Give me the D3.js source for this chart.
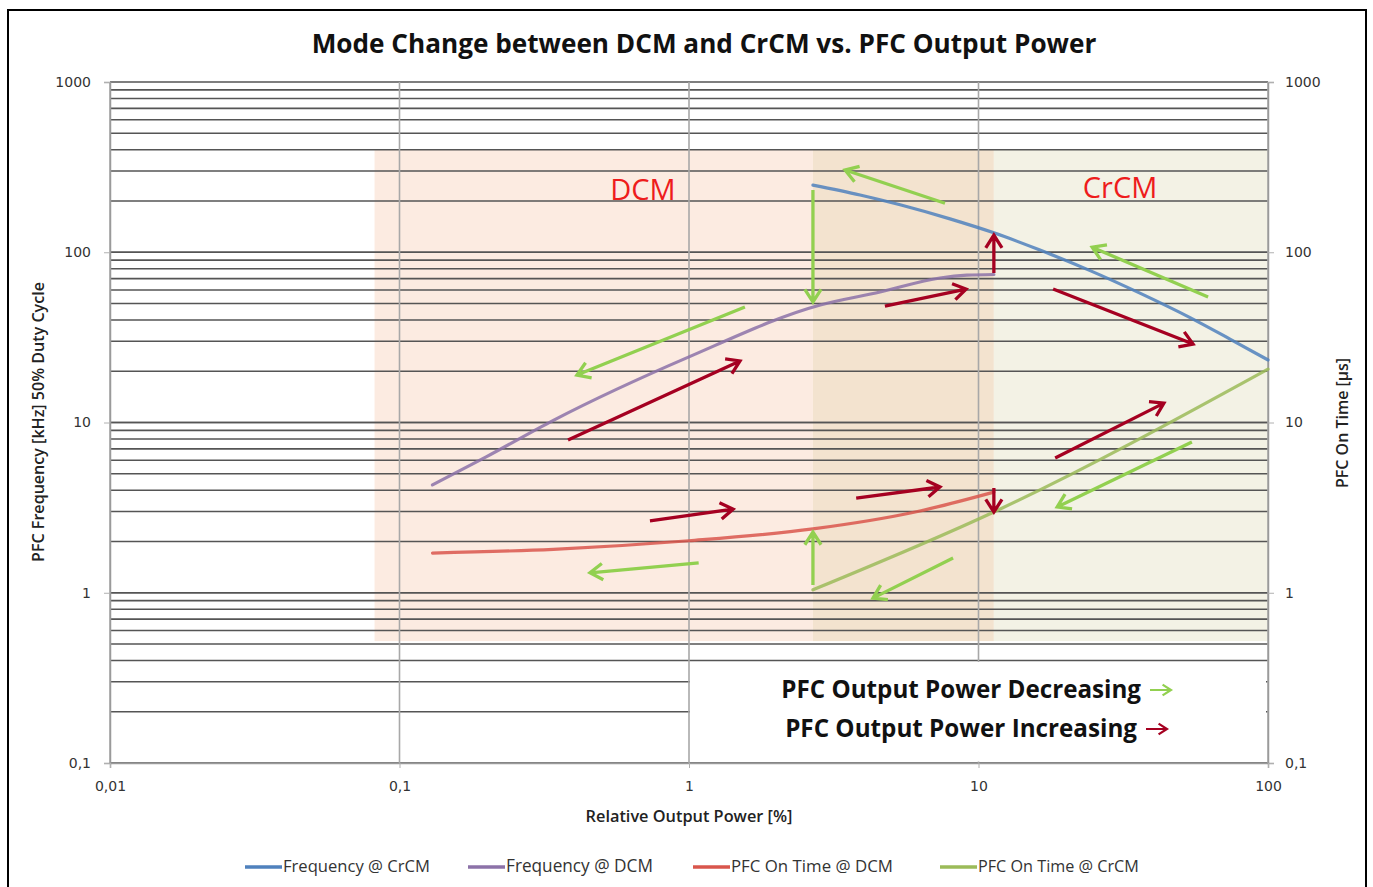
<!DOCTYPE html>
<html>
<head>
<meta charset="utf-8">
<title>Mode Change between DCM and CrCM</title>
<script src="https://d3js.org/d3.v7.min.js"></script>
<style>
  body { margin: 0; background: #fff; font-family: "Open Sans", sans-serif; }
</style>
</head>
<body>
<div id="chart"></div>
<script>
// values (x: relative output power in %, y: kHz or us)
var xTicks = [0.01, 0.1, 1, 10, 100];
var xTickLabels = ["0,01", "0,1", "1", "10", "100"];
var yTicks = [0.1, 1, 10, 100, 1000];
var yTickLabels = ["0,1", "1", "10", "100", "1000"];

var freqCrcmX = [2.68, 3.9, 5.36, 7.97, 11.3, 16.3, 24.3, 36.1, 53.8, 73.9, 100];
var freqCrcmY = [248, 217, 190, 157, 130, 103, 78, 57.5, 41.3, 30.9, 23.3];
var freqDcmX = [0.13, 0.2, 0.34, 1.0, 2.84, 4.57, 7.36, 9.12, 11.3];
var freqDcmY = [4.3, 6.3, 10.3, 24.3, 49, 58.4, 70.6, 73.3, 74.0];
var onDcmX = [0.13, 0.34, 1.0, 2.68, 6.1, 11.3];
var onDcmY = [1.71, 1.8, 2.02, 2.37, 2.99, 3.9];
var onCrcmX = [2.68, 11.3, 100];
var onCrcmY = [1.04, 2.98, 20.6];

var seriesNames = ["Frequency @ CrCM", "Frequency @ DCM", "PFC On Time @ DCM", "PFC On Time @ CrCM"];
var seriesColors = ["#4f81bd", "#8c72a8", "#d9564c", "#9bbb59"];

// mode regions: DCM, overlap, CrCM
var regionEdges = [0.082, 2.68, 11.3, 100];
var regionTop = 400, regionBottom = 0.52;
var regionColors = ["#fcebe1", "#f3e3cf", "#f3f2e5"];

// arrows [x1, y1, x2, y2] in data units
var decArrows = [
  [7.66, 194, 3.46, 304],
  [2.68, 232, 2.68, 51],
  [62.1, 54.6, 24.7, 107],
  [1.56, 47.7, 0.41, 19.0],
  [1.08, 1.50, 0.455, 1.31],
  [2.68, 1.11, 2.68, 2.27],
  [8.17, 1.60, 4.32, 0.93],
  [54.6, 7.68, 18.7, 3.19]
];
var incArrows = [
  [0.382, 7.89, 1.50, 23.0],
  [0.733, 2.64, 1.42, 3.10],
  [4.75, 48.3, 9.06, 60.8],
  [11.3, 75.5, 11.3, 126],
  [18.1, 60.8, 55.1, 28.9],
  [3.78, 3.60, 7.36, 4.18],
  [11.3, 4.12, 11.3, 2.98],
  [18.4, 6.19, 43.7, 13.0]
];
var decColor = "#92d050", incColor = "#a50021";

var W = 1373, H = 887;
var pLeft = 110, pRight = 1268, pTop = 82, pBottom = 763;

var svg = d3.select("#chart").append("svg").attr("width", W).attr("height", H);

var x = d3.scaleLog().domain([0.01, 100]).range([pLeft, pRight]);
var y = d3.scaleLog().domain([0.1, 1000]).range([pBottom, pTop]);

function fit(sel, w) {
  var len = sel.node().getComputedTextLength();
  sel.attr("font-size", parseFloat(sel.attr("font-size")) * w / len);
}

// outer frame
svg.append("rect").attr("x", 8).attr("y", 10).attr("width", 1358).attr("height", 890)
  .attr("fill", "none").attr("stroke", "#000").attr("stroke-width", 2);

// title
svg.append("text").attr("x", 704).attr("y", 53).attr("text-anchor", "middle")
  .attr("font-weight", 700).attr("font-size", 24).attr("fill", "#111")
  .text("Mode Change between DCM and CrCM vs. PFC Output Power")
  .call(fit, 785);

// regions
var regions = svg.append("g");
regionColors.forEach(function(c, i) {
  regions.append("rect")
    .attr("x", x(regionEdges[i])).attr("y", y(regionTop))
    .attr("width", x(regionEdges[i + 1]) - x(regionEdges[i]))
    .attr("height", y(regionBottom) - y(regionTop))
    .attr("fill", c);
});

// grid
var minor = [];
[0.1, 1, 10, 100].forEach(function(d) {
  for (var k = 1; k <= 10; k++) minor.push(d * k);
});
svg.append("g").attr("class", "grid")
  .selectAll("line").data(minor).enter().append("line")
  .attr("x1", pLeft).attr("x2", pRight)
  .attr("y1", function(d) { return y(d); }).attr("y2", function(d) { return y(d); })
  .attr("stroke", "#555").attr("stroke-width", 1.7);
svg.append("g")
  .selectAll("line").data(xTicks).enter().append("line")
  .attr("x1", function(d) { return x(d); }).attr("x2", function(d) { return x(d); })
  .attr("y1", pTop).attr("y2", pBottom)
  .attr("stroke", "#a8a8a8").attr("stroke-width", 1.6);

// white box behind the direction legend
svg.append("rect")
  .attr("x", x(1) + 1).attr("y", y(0.4) + 1.5)
  .attr("width", x(100) - x(1) - 3).attr("height", y(0.1) - y(0.4) - 3)
  .attr("fill", "#fff");

// axes
var yLeft = svg.append("g").attr("transform", "translate(" + pLeft + ",0)")
  .call(d3.axisLeft(y).tickValues(yTicks).tickFormat(function(d, i) { return yTickLabels[i]; })
    .tickSize(6).tickPadding(13));
var yRight = svg.append("g").attr("transform", "translate(" + pRight + ",0)")
  .call(d3.axisRight(y).tickValues(yTicks).tickFormat(function(d, i) { return yTickLabels[i]; })
    .tickSize(6).tickPadding(11));
var xAxis = svg.append("g").attr("transform", "translate(0," + pBottom + ")")
  .call(d3.axisBottom(x).tickValues(xTicks).tickFormat(function(d, i) { return xTickLabels[i]; })
    .tickSize(5).tickPadding(13));
[yLeft, yRight, xAxis].forEach(function(g) {
  g.attr("font-family", "DejaVu Sans, sans-serif").attr("font-size", 14);
  g.select(".domain").attr("stroke", "#9a9a9a").attr("stroke-width", 1.5);
  g.selectAll(".tick line").attr("stroke", "#b0b0b0");
  g.selectAll(".tick text").attr("fill", "#333");
});

// region labels
svg.append("text").attr("x", 643).attr("y", 200).attr("text-anchor", "middle")
  .attr("font-size", 29).attr("fill", "#ee1c1c").text("DCM");
svg.append("text").attr("x", 1120).attr("y", 198).attr("text-anchor", "middle")
  .attr("font-size", 29).attr("fill", "#ee1c1c").text("CrCM");

// curves
var line = d3.line()
  .curve(d3.curveMonotoneX)
  .x(function(d) { return x(d[0]); })
  .y(function(d) { return y(d[1]); });
var series = [
  d3.zip(freqCrcmX, freqCrcmY),
  d3.zip(freqDcmX, freqDcmY),
  d3.zip(onDcmX, onDcmY),
  d3.zip(onCrcmX, onCrcmY)
];
svg.append("g").selectAll("path").data(series).enter().append("path")
  .attr("d", line)
  .attr("fill", "none")
  .attr("stroke", function(d, i) { return seriesColors[i]; })
  .attr("stroke-opacity", 0.85)
  .attr("stroke-width", 3.2)
  .attr("stroke-linecap", "round");

// arrows
function arrowPath(x1, y1, x2, y2, h) {
  var a = Math.atan2(y2 - y1, x2 - x1), s = Math.PI / 5.5;
  return "M" + x1 + "," + y1 + "L" + x2 + "," + y2 +
    "M" + (x2 - h * Math.cos(a - s)) + "," + (y2 - h * Math.sin(a - s)) +
    "L" + x2 + "," + y2 +
    "L" + (x2 - h * Math.cos(a + s)) + "," + (y2 - h * Math.sin(a + s));
}
function drawArrows(list, color) {
  svg.append("g").selectAll("path").data(list).enter().append("path")
    .attr("d", function(d) { return arrowPath(x(d[0]), y(d[1]), x(d[2]), y(d[3]), 15); })
    .attr("fill", "none").attr("stroke", color).attr("stroke-width", 3.3)
    .attr("stroke-linejoin", "miter");
}
drawArrows(decArrows, decColor);
drawArrows(incArrows, incColor);

// direction legend
var dirText = [["PFC Output Power Decreasing", decColor, 698, 1141, 360],
               ["PFC Output Power Increasing", incColor, 737, 1137, 352]];
dirText.forEach(function(t) {
  svg.append("text").attr("x", t[3]).attr("y", t[2]).attr("text-anchor", "end")
    .attr("font-weight", 700).attr("font-size", 22).attr("fill", "#111").text(t[0])
    .call(fit, t[4]);
  svg.append("path")
    .attr("d", arrowPath(t[3] + 9, t[2] - 8, t[3] + 30, t[2] - 8, 10))
    .attr("fill", "none").attr("stroke", t[1]).attr("stroke-width", 2.2);
});

// axis titles
svg.append("text").attr("x", 689).attr("y", 822).attr("text-anchor", "middle")
  .attr("font-weight", 600).attr("font-size", 14).attr("fill", "#222")
  .text("Relative Output Power [%]").call(fit, 207);
svg.append("text").attr("transform", "translate(44,422) rotate(-90)").attr("text-anchor", "middle")
  .attr("font-weight", 600).attr("font-size", 13).attr("fill", "#222")
  .text("PFC Frequency [kHz] 50% Duty Cycle").call(fit, 280);
svg.append("text").attr("transform", "translate(1348,423) rotate(-90)").attr("text-anchor", "middle")
  .attr("font-weight", 600).attr("font-size", 13).attr("fill", "#222")
  .text("PFC On Time [\u00b5s]").call(fit, 130);

// series legend
var legendX = [245, 468, 693, 940];
var legendW = [147, 147, 162, 161];
seriesNames.forEach(function(name, i) {
  svg.append("line").attr("x1", legendX[i]).attr("x2", legendX[i] + 37)
    .attr("y1", 867).attr("y2", 867)
    .attr("stroke", seriesColors[i]).attr("stroke-width", 3.5);
  svg.append("text").attr("x", legendX[i] + 38).attr("y", 872)
    .attr("font-size", 14).attr("fill", "#333").text(name).call(fit, legendW[i]);
});
</script>
</body>
</html>
